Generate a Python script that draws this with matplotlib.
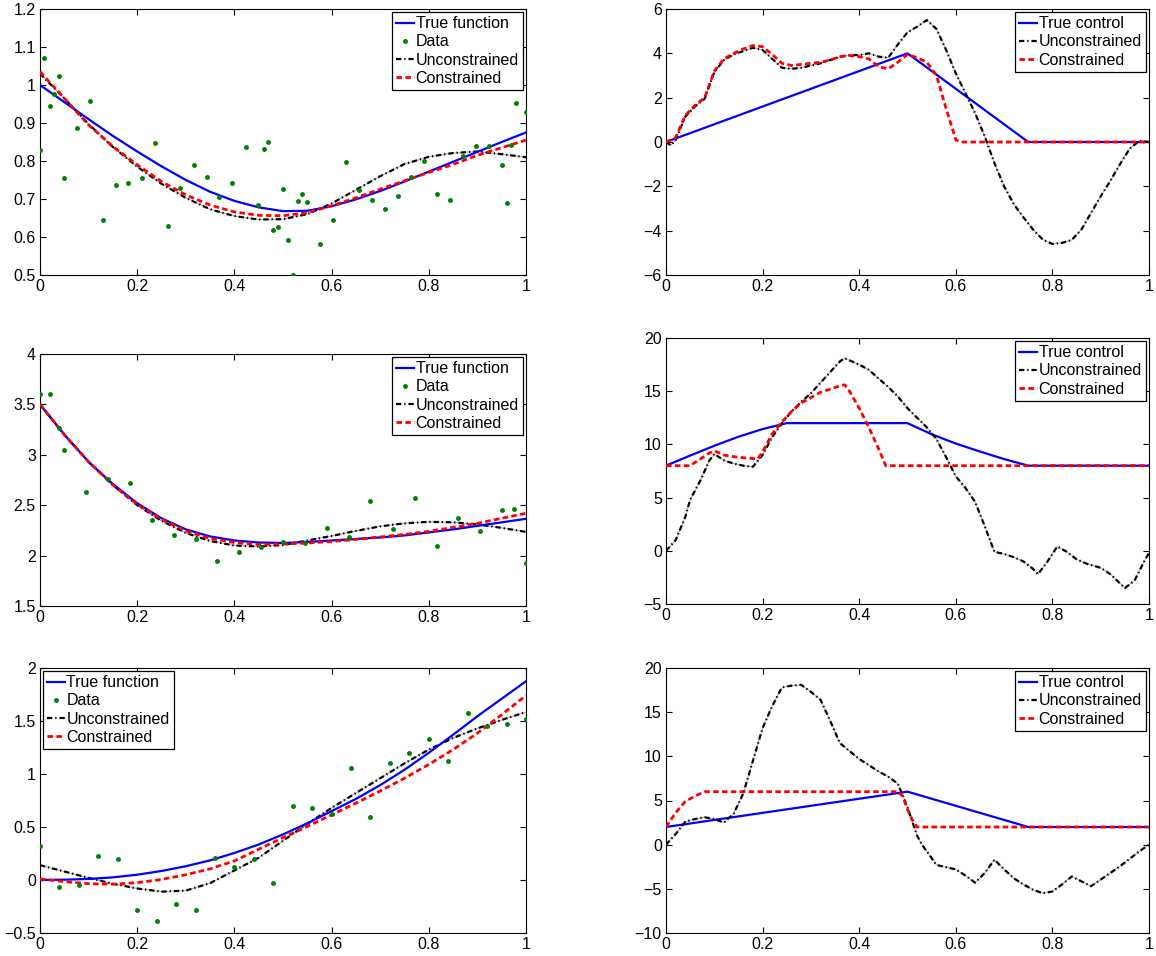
import numpy as np
import matplotlib
matplotlib.use("Agg")
import matplotlib.pyplot as plt
from matplotlib.ticker import FuncFormatter, MultipleLocator

# --- Data ---
grid = [0, 0.05, 0.1, 0.15, 0.2, 0.25, 0.3, 0.35, 0.4, 0.45, 0.5,
        0.55, 0.6, 0.65, 0.7, 0.75, 0.8, 0.85, 0.9, 0.95, 1.0]

# top-left
p1_true = [1.0, 0.955, 0.91, 0.866, 0.825, 0.786, 0.75, 0.719, 0.695, 0.678, 0.668,
           0.669, 0.681, 0.699, 0.721, 0.746, 0.772, 0.798, 0.824, 0.85, 0.875]
p1_unc = [1.03, 0.965, 0.897, 0.837, 0.785, 0.74, 0.703, 0.673, 0.655, 0.646, 0.647,
          0.66, 0.688, 0.724, 0.76, 0.792, 0.811, 0.821, 0.825, 0.818, 0.81]
p1_con = [1.035, 0.965, 0.895, 0.838, 0.79, 0.746, 0.711, 0.684, 0.666, 0.657, 0.656,
          0.664, 0.682, 0.703, 0.726, 0.748, 0.77, 0.791, 0.815, 0.835, 0.855]
p1_dx = [0.0, 0.009, 0.02, 0.029, 0.039, 0.049, 0.076, 0.103, 0.129, 0.156, 0.182,
         0.21, 0.236, 0.263, 0.289, 0.316, 0.343, 0.369, 0.396, 0.423, 0.449, 0.46,
         0.47, 0.48, 0.49, 0.5, 0.51, 0.52, 0.53, 0.54, 0.55, 0.576, 0.603, 0.629,
         0.656, 0.683, 0.71, 0.736, 0.763, 0.79, 0.817, 0.843, 0.87, 0.897, 0.923,
         0.95, 0.96, 0.97, 0.98, 1.0]
p1_dy = [0.828, 1.07, 0.944, 0.976, 1.024, 0.756, 0.888, 0.958, 0.645, 0.737, 0.743,
         0.754, 0.848, 0.628, 0.73, 0.789, 0.758, 0.704, 0.742, 0.836, 0.684, 0.832,
         0.849, 0.619, 0.627, 0.727, 0.592, 0.5, 0.695, 0.713, 0.691, 0.581, 0.646, 0.798,
         0.724, 0.698, 0.673, 0.707, 0.759, 0.8, 0.713, 0.698, 0.814, 0.84, 0.84,
         0.789, 0.689, 0.843, 0.952, 0.928]

# middle-left
p2_true = [3.5, 3.2, 2.93, 2.71, 2.52, 2.37, 2.26, 2.19, 2.15, 2.13, 2.125,
           2.135, 2.15, 2.165, 2.18, 2.2, 2.23, 2.26, 2.295, 2.33, 2.365]
p2_unc = [3.5, 3.2, 2.93, 2.7, 2.5, 2.345, 2.225, 2.145, 2.1, 2.09, 2.105,
          2.15, 2.195, 2.245, 2.29, 2.32, 2.335, 2.33, 2.31, 2.275, 2.235]
p2_con = [3.5, 3.2, 2.93, 2.7, 2.51, 2.36, 2.245, 2.17, 2.13, 2.11, 2.115,
          2.125, 2.14, 2.16, 2.185, 2.21, 2.24, 2.28, 2.32, 2.37, 2.42]
p2_dx = [0.0, 0.02, 0.04, 0.05, 0.095, 0.14, 0.185, 0.23, 0.275, 0.32, 0.365, 0.41,
         0.455, 0.5, 0.545, 0.59, 0.636, 0.68, 0.726, 0.771, 0.816, 0.861, 0.906,
         0.951, 0.976, 1.0]
p2_dy = [3.6, 3.6, 3.27, 3.05, 2.635, 2.755, 2.72, 2.355, 2.2, 2.165, 1.95, 2.036,
         2.086, 2.133, 2.122, 2.27, 2.18, 2.54, 2.26, 2.576, 2.096, 2.37, 2.245,
         2.45, 2.467, 1.93]

# bottom-left
p3_true = [0.0, 0.003, 0.01, 0.025, 0.05, 0.085, 0.13, 0.185, 0.255, 0.335, 0.43,
           0.535, 0.65, 0.765, 0.895, 1.04, 1.2, 1.37, 1.545, 1.71, 1.875]
p3_unc = [0.14, 0.08, 0.02, -0.035, -0.08, -0.11, -0.1, -0.03, 0.09, 0.21, 0.37,
          0.53, 0.68, 0.82, 0.96, 1.1, 1.23, 1.34, 1.43, 1.51, 1.585]
p3_con = [0.01, -0.015, -0.035, -0.04, -0.025, 0.005, 0.05, 0.105, 0.18, 0.29, 0.4,
          0.505, 0.615, 0.725, 0.84, 0.96, 1.09, 1.23, 1.385, 1.56, 1.74]
p3_dx = [0.0, 0.04, 0.08, 0.12, 0.16, 0.2, 0.24, 0.28, 0.32, 0.36, 0.4, 0.44, 0.48,
         0.52, 0.56, 0.6, 0.64, 0.68, 0.72, 0.76, 0.8, 0.84, 0.88, 0.92, 0.96, 1.0]
p3_dy = [0.318, -0.066, -0.044, 0.223, 0.198, -0.286, -0.384, -0.223, -0.28, 0.21,
         0.12, 0.198, -0.03, 0.695, 0.682, 0.623, 1.06, 0.597, 1.104, 1.2, 1.327,
         1.126, 1.575, 1.45, 1.475, 1.52]

# top-right
p4_true_x = [0, 0.5, 0.75, 1.0]
p4_true = [0, 4, 0, 0]
p4_unc_x = [0, 0.01, 0.02, 0.04, 0.06, 0.08, 0.1, 0.12, 0.14, 0.16, 0.18, 0.2, 0.22,
            0.24, 0.26, 0.28, 0.3, 0.32, 0.34, 0.36, 0.38, 0.4, 0.42, 0.44, 0.46,
            0.48, 0.5, 0.52, 0.54, 0.56, 0.58, 0.6, 0.62, 0.64, 0.66, 0.68, 0.7,
            0.72, 0.74, 0.76, 0.78, 0.8, 0.82, 0.84, 0.86, 0.88, 0.9, 0.92, 0.94,
            0.96, 0.98, 1.0]
p4_unc = [0, -0.15, 0.1, 1.15, 1.6, 1.95, 3.15, 3.7, 3.95, 4.1, 4.25, 4.15, 3.75,
          3.35, 3.3, 3.35, 3.45, 3.55, 3.7, 3.85, 3.92, 3.92, 4.0, 3.85, 3.8,
          4.4, 4.95, 5.2, 5.5, 5.1, 4.15, 3.1, 2.2, 1.3, 0.25, -0.95, -2.0,
          -2.8, -3.4, -3.95, -4.4, -4.6, -4.55, -4.42, -3.95, -3.2, -2.45, -1.75, -1.0,
          -0.3, 0.05, 0.0]
p4_con_x = [0, 0.02, 0.04, 0.06, 0.08, 0.1, 0.12, 0.14, 0.16, 0.18, 0.2, 0.22, 0.24,
            0.26, 0.28, 0.3, 0.32, 0.34, 0.36, 0.38, 0.4, 0.42, 0.44, 0.46, 0.48,
            0.5, 0.52, 0.54, 0.56, 0.58, 0.6, 0.61, 1.0]
p4_con = [0, 0.2, 1.2, 1.65, 2.0, 3.2, 3.75, 4.0, 4.2, 4.35, 4.3, 3.95, 3.55,
          3.45, 3.5, 3.55, 3.6, 3.7, 3.85, 3.9, 3.85, 3.75, 3.4, 3.3, 3.6,
          3.95, 3.8, 3.6, 3.0, 1.5, 0.1, 0, 0]

# middle-right
p5_true_x = [0, 0.05, 0.1, 0.15, 0.2, 0.25, 0.5, 0.55, 0.6, 0.65, 0.7, 0.75, 1.0]
p5_true = [8, 8.95, 9.87, 10.72, 11.44, 12, 12, 10.95, 10.08, 9.33, 8.62, 8.0, 8.0]
p5_unc_x = [0, 0.02, 0.04, 0.05, 0.07, 0.09, 0.1, 0.12, 0.14, 0.16, 0.18, 0.2, 0.22,
            0.24, 0.26, 0.28, 0.3, 0.32, 0.34, 0.36, 0.37, 0.38, 0.4, 0.42, 0.44,
            0.46, 0.48, 0.5, 0.52, 0.54, 0.56, 0.58, 0.6, 0.62, 0.64, 0.66, 0.68,
            0.7, 0.72, 0.74, 0.76, 0.77, 0.79, 0.81, 0.83, 0.85, 0.87, 0.9, 0.92,
            0.95, 0.97, 0.99, 1.0]
p5_unc = [0, 1.0, 3.2, 4.8, 6.5, 8.5, 9.1, 8.5, 8.2, 8.0, 7.9, 9.0, 10.7,
          12.0, 13.1, 14.0, 14.8, 15.8, 16.8, 17.8, 18.1, 17.9, 17.5, 17.0, 16.2,
          15.4, 14.5, 13.4, 12.5, 11.6, 10.5, 8.8, 7.0, 5.9, 4.6, 2.3, -0.1,
          -0.3, -0.6, -1.0, -1.7, -2.2, -1.0, 0.4, -0.1, -0.8, -1.2, -1.6, -2.2,
          -3.5, -2.8, -1.0, -0.2]
p5_con_x = [0, 0.05, 0.07, 0.09, 0.1, 0.12, 0.14, 0.17, 0.19, 0.2, 0.22, 0.24, 0.26,
            0.28, 0.3, 0.32, 0.34, 0.36, 0.37, 0.38, 0.4, 0.42, 0.44, 0.455, 1.0]
p5_con = [8, 8, 8.6, 9.2, 9.4, 9.0, 8.85, 8.7, 8.65, 9.3, 11.0, 12.1, 13.1,
          13.9, 14.4, 14.9, 15.2, 15.5, 15.6, 15.0, 13.4, 11.6, 9.6, 8.0, 8.0]

# bottom-right
p6_true_x = [0, 0.5, 0.75, 1.0]
p6_true = [2, 6, 2, 2]
p6_unc_x = [0, 0.02, 0.04, 0.06, 0.08, 0.1, 0.12, 0.14, 0.16, 0.18, 0.2, 0.22, 0.24,
            0.26, 0.28, 0.3, 0.32, 0.34, 0.36, 0.38, 0.4, 0.42, 0.44, 0.46, 0.48,
            0.49, 0.5, 0.51, 0.52, 0.53, 0.56, 0.6, 0.62, 0.64, 0.66, 0.68, 0.7,
            0.72, 0.74, 0.76, 0.78, 0.8, 0.82, 0.84, 0.86, 0.88, 0.9, 0.92, 0.94,
            0.96, 0.98, 1.0]
p6_unc = [0, 1.2, 2.6, 2.9, 3.1, 2.9, 2.5, 3.5, 5.8, 9.5, 13.2, 15.7, 17.8,
          18.0, 18.1, 17.3, 16.4, 14.0, 11.5, 10.6, 9.7, 9.0, 8.3, 7.7, 6.9,
          5.6, 4.2, 2.6, 1.0, 0.0, -2.3, -2.8, -3.5, -4.3, -3.2, -1.7, -2.8,
          -3.8, -4.5, -5.1, -5.5, -5.3, -4.5, -3.6, -4.15, -4.7, -3.95, -3.2, -2.45,
          -1.6, -0.75, 0.0]
p6_con_x = [0, 0.02, 0.04, 0.06, 0.08, 0.48, 0.49, 0.5, 0.51, 0.52, 1.0]
p6_con = [2, 3.6, 4.9, 5.5, 6, 6, 5.5, 4.0, 2.8, 2.0, 2.0]

ylims = [(0.5, 1.2), (1.5, 4), (-0.5, 2), (-6, 6), (-5, 20), (-10, 20)]
ysteps = [0.1, 0.5, 0.5, 2, 5, 5]

# --- Figure layout (pixel boxes: left, top, right, bottom) ---
W, H = 1156, 956
plt.rcParams['font.family'] = ['Liberation Sans', 'DejaVu Sans']
plt.rcParams['font.size'] = 11.5
fig = plt.figure(figsize=(W / 100, H / 100), dpi=100)

boxes = [(40, 9, 526, 275), (40, 354, 526, 606), (40, 668, 526, 933),
         (666, 9, 1149, 275), (666, 338, 1149, 604), (666, 668, 1149, 933)]

fmt = FuncFormatter(lambda v, p: ('%g' % round(v, 6)).replace('-', '\u2212'))


def make_ax(box, ylim, ystep):
    l, t, r, b = box
    ax = fig.add_axes([l / W, 1 - b / H, (r - l) / W, (b - t) / H])
    ax.set_xlim(0, 1)
    ax.set_ylim(*ylim)
    ax.xaxis.set_major_locator(MultipleLocator(0.2))
    ax.yaxis.set_major_locator(MultipleLocator(ystep))
    ax.xaxis.set_major_formatter(fmt)
    ax.yaxis.set_major_formatter(fmt)
    ax.tick_params(direction='in', top=True, right=True, length=4, width=0.8,
                   pad=3, labelsize=11.5)
    for s in ax.spines.values():
        s.set_linewidth(0.8)
    return ax


def unc_line(ax, x, y):
    # thin grey trace under the black dash-dot, as in the original
    ax.plot(x, y, color='0.6', lw=0.6, zorder=2)
    ln, = ax.plot(x, y, color='k', lw=1.6, zorder=3, label='Unconstrained',
                  dashes=(2.4, 1.3, 0.6, 1.3))
    return ln


def legend(ax, handles, loc):
    leg = ax.legend(handles=handles, loc=loc, fancybox=False, framealpha=1,
                    edgecolor='k', handlelength=1.1, handletextpad=0.1,
                    borderpad=0.25, labelspacing=0.2, borderaxespad=0.2,
                    numpoints=1, fontsize=11.5)
    leg.get_frame().set_linewidth(0.9)


left = [(p1_true, p1_unc, p1_con, p1_dx, p1_dy, 'upper right'),
        (p2_true, p2_unc, p2_con, p2_dx, p2_dy, 'upper right'),
        (p3_true, p3_unc, p3_con, p3_dx, p3_dy, 'upper left')]

for i, (tru, unc, con, dx, dy, loc) in enumerate(left):
    ax = make_ax(boxes[i], ylims[i], ysteps[i])
    h1, = ax.plot(grid, tru, color='b', lw=1.6, label='True function', zorder=4)
    h2, = ax.plot(dx, dy, '.', color='#008000', ms=5, label='Data', zorder=5)
    h3 = unc_line(ax, grid, unc)
    h4, = ax.plot(grid, con, color='r', lw=2, dashes=(2.0, 1.2), label='Constrained', zorder=4)
    legend(ax, [h1, h2, h3, h4], loc)

right = [(p4_true_x, p4_true, p4_unc_x, p4_unc, p4_con_x, p4_con),
         (p5_true_x, p5_true, p5_unc_x, p5_unc, p5_con_x, p5_con),
         (p6_true_x, p6_true, p6_unc_x, p6_unc, p6_con_x, p6_con)]

for j, (tx, ty, ux, uy, cx, cy) in enumerate(right):
    i = j + 3
    ax = make_ax(boxes[i], ylims[i], ysteps[i])
    h1, = ax.plot(tx, ty, color='b', lw=1.6, label='True control', zorder=3)
    h3 = unc_line(ax, ux, uy)
    h4, = ax.plot(cx, cy, color='r', lw=2, dashes=(2.0, 1.2), label='Constrained', zorder=4)
    legend(ax, [h1, h3, h4], 'upper right')

fig.savefig('out.png', dpi=100)
